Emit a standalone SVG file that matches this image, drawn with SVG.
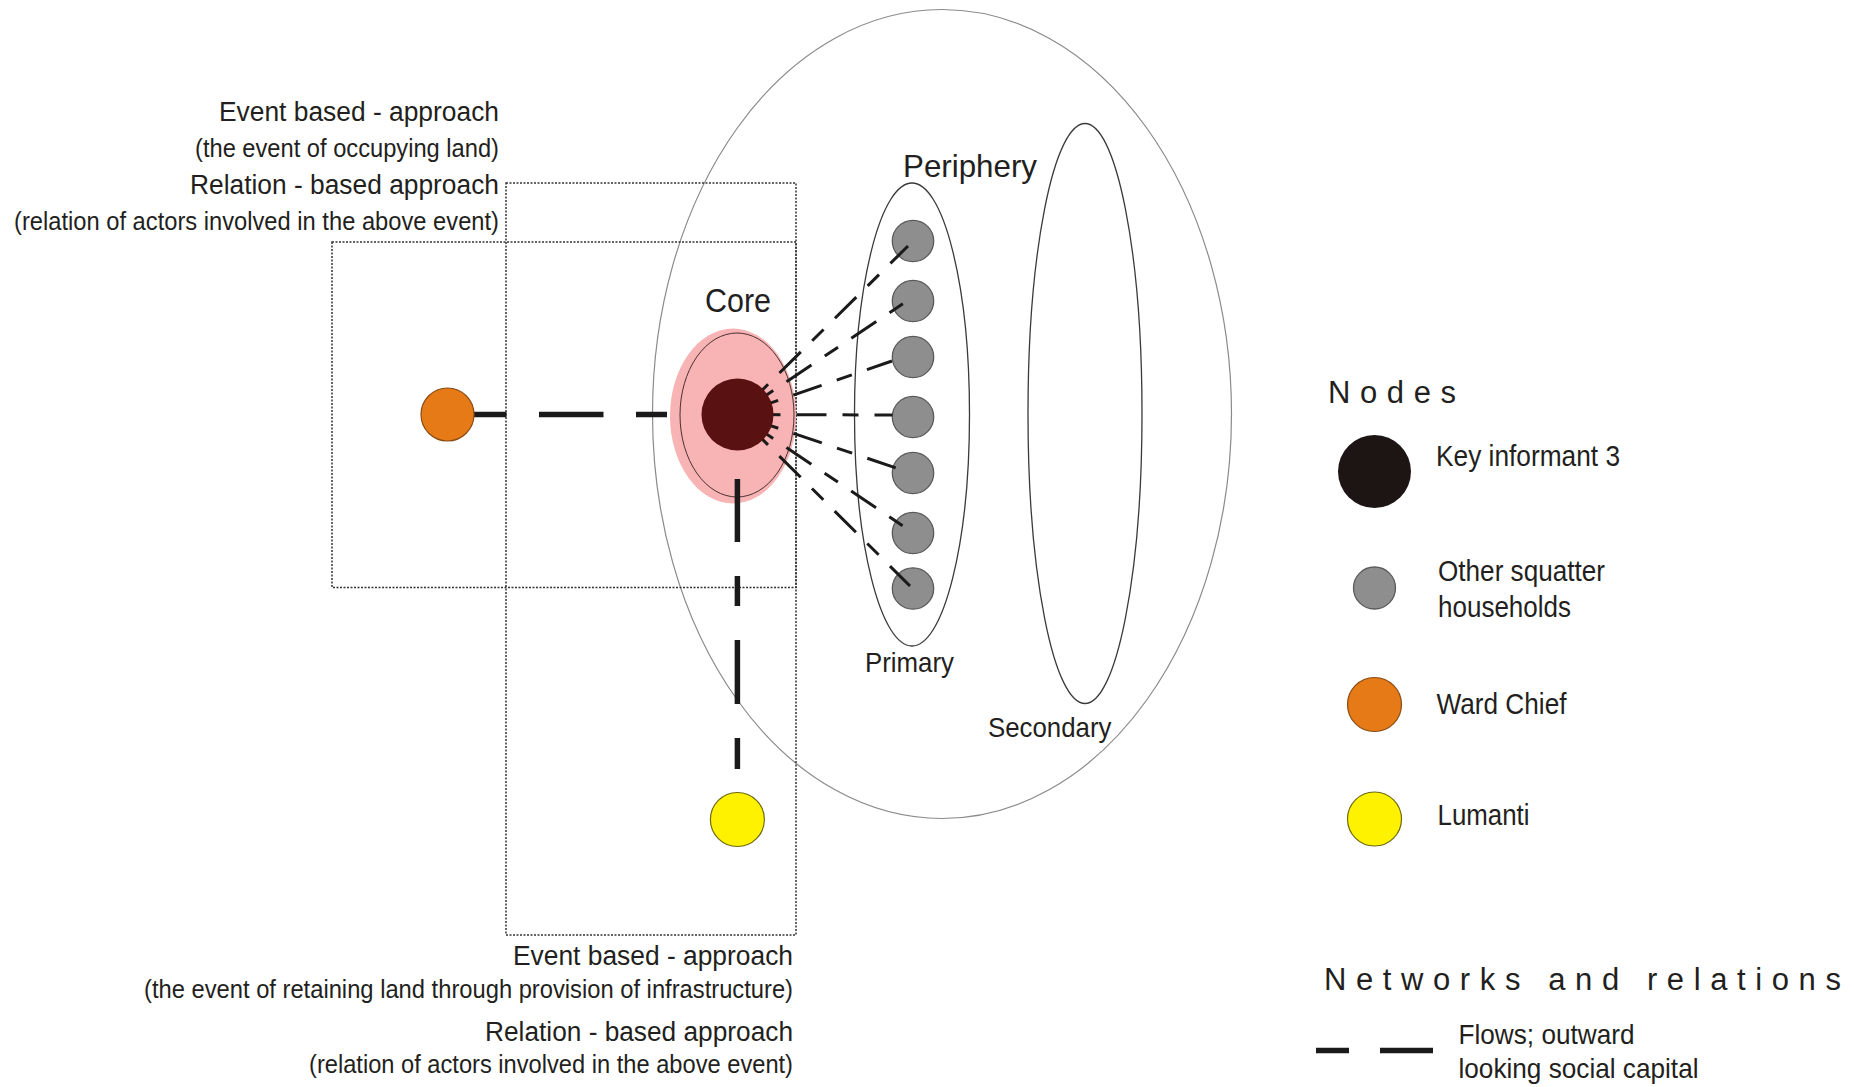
<svg xmlns="http://www.w3.org/2000/svg" width="1854" height="1087" viewBox="0 0 1854 1087">
<style>
text{font-family:"Liberation Sans",Arial,sans-serif;fill:#231f20}
.lbl{font-size:27px}
.sub{font-size:25.5px}
.leg{font-size:29px}
.box{fill:none;stroke:#333;stroke-width:1.5;stroke-dasharray:2 1.5}
.ring{fill:none;stroke:#3a3a3a;stroke-width:1.3}
.hh{fill:#8e8e8e;stroke:#5a5a5a;stroke-width:1.3}
.thick{fill:none;stroke:#1a1a1a;stroke-width:5.5}
.fan{fill:none;stroke:#1a1a1a;stroke-width:3;stroke-dasharray:30 16 16 16;stroke-dashoffset:19}
.title{font-size:31px;letter-spacing:9.6px}
</style>
<rect width="1854" height="1087" fill="#fff"/>

<g id="zones">
<ellipse id="outer" cx="942" cy="414" rx="289.5" ry="404.5" fill="none" stroke="#8a8a8a" stroke-width="1.2"/>
<rect id="box-event-occupy" class="box" x="332" y="242" width="464" height="345.5"/>
<rect id="box-event-retain" class="box" x="506" y="183" width="290" height="752"/>
<ellipse id="primary-ring" class="ring" cx="912" cy="414.5" rx="57.5" ry="231.5"/>
<ellipse id="secondary-ring" class="ring" cx="1085" cy="413.5" rx="57" ry="290"/>
</g>

<g id="core">
<ellipse cx="733" cy="416" rx="63" ry="87.5" fill="#f8b4b4"/>
<ellipse cx="737" cy="415" rx="57" ry="82" fill="none" stroke="#4a3030" stroke-width="1"/>
</g>

<g id="households">
<circle id="hh1" class="hh" cx="913" cy="241" r="20.7"/>
<circle id="hh2" class="hh" cx="913" cy="301" r="20.7"/>
<circle id="hh3" class="hh" cx="913" cy="357" r="20.7"/>
<circle id="hh4" class="hh" cx="913" cy="417" r="20.7"/>
<circle id="hh5" class="hh" cx="913" cy="473" r="20.7"/>
<circle id="hh6" class="hh" cx="913" cy="533" r="20.7"/>
<circle id="hh7" class="hh" cx="913" cy="588.5" r="20.7"/>
</g>

<g id="connectors">
<path class="fan" d="M737.5,414.5 L908,246"/>
<path class="fan" d="M737.5,414.5 L910,299"/>
<path class="fan" d="M737.5,414.5 L892,361"/>
<path class="fan" d="M737.5,414.5 L892.5,415"/>
<path class="fan" d="M737.5,414.5 L905,471"/>
<path class="fan" d="M737.5,414.5 L912,532"/>
<path class="fan" d="M737.5,414.5 L910,586"/>
<path class="thick" d="M667,414.5 H636 M603.5,414.5 H539 M506.5,414.5 H474"/>
<path class="thick" d="M737.4,479 V542 M737.4,576 V606 M737.4,640 V704 M737.4,738 V769"/>
</g>

<g id="key-informant">
<circle cx="737.5" cy="414.5" r="36" fill="#5a1111"/>
</g>
<g id="ward-chief">
<circle cx="447.5" cy="414.5" r="26.5" fill="#e57a17" stroke="#8a4b12" stroke-width="1.2"/>
</g>
<g id="lumanti">
<circle cx="737.4" cy="819.5" r="27" fill="#fff200" stroke="#6e6a10" stroke-width="1.2"/>
</g>

<g id="labels">
<text x="705" y="312" font-size="34" textLength="66" lengthAdjust="spacingAndGlyphs">Core</text>
<text x="903" y="177" font-size="32" textLength="134" lengthAdjust="spacingAndGlyphs">Periphery</text>
<text x="865" y="671.5" font-size="28.5" textLength="89" lengthAdjust="spacingAndGlyphs">Primary</text>
<text x="988" y="736.5" font-size="28.5" textLength="123.5" lengthAdjust="spacingAndGlyphs">Secondary</text>

<text class="lbl" x="219" y="121" textLength="280" lengthAdjust="spacingAndGlyphs">Event based - approach</text>
<text class="sub" x="195" y="157" textLength="304" lengthAdjust="spacingAndGlyphs">(the event of occupying land)</text>
<text class="lbl" x="190" y="194" textLength="309" lengthAdjust="spacingAndGlyphs">Relation - based approach</text>
<text class="sub" x="14" y="229.5" textLength="485" lengthAdjust="spacingAndGlyphs">(relation of actors involved in the above event)</text>

<text class="lbl" x="513" y="965" textLength="280" lengthAdjust="spacingAndGlyphs">Event based - approach</text>
<text class="sub" x="144" y="998" textLength="649" lengthAdjust="spacingAndGlyphs">(the event of retaining land through provision of infrastructure)</text>
<text class="lbl" x="485" y="1041" textLength="308" lengthAdjust="spacingAndGlyphs">Relation - based approach</text>
<text class="sub" x="309" y="1073" textLength="484" lengthAdjust="spacingAndGlyphs">(relation of actors involved in the above event)</text>
</g>

<g id="legend">
<text class="title" x="1328" y="403">Nodes</text>
<circle cx="1374.5" cy="471.5" r="36.5" fill="#1c1514"/>
<text class="leg" x="1436" y="466" textLength="184" lengthAdjust="spacingAndGlyphs">Key informant 3</text>
<circle class="hh" cx="1374.5" cy="588" r="21"/>
<text class="leg" x="1438" y="581" textLength="167" lengthAdjust="spacingAndGlyphs">Other squatter</text>
<text class="leg" x="1438" y="617" textLength="133" lengthAdjust="spacingAndGlyphs">households</text>
<circle cx="1374.5" cy="704.5" r="27" fill="#e57a17" stroke="#8a4b12" stroke-width="1.2"/>
<text class="leg" x="1436.5" y="714" textLength="130" lengthAdjust="spacingAndGlyphs">Ward Chief</text>
<circle cx="1374.5" cy="819" r="27" fill="#fff200" stroke="#6e6a10" stroke-width="1.2"/>
<text class="leg" x="1437.5" y="825" textLength="92" lengthAdjust="spacingAndGlyphs">Lumanti</text>
<text class="title" x="1324" y="990">Networks and relations</text>
<path class="thick" d="M1316,1050.5 H1349 M1380,1050.5 H1433"/>
<text x="1458.5" y="1044" font-size="28" textLength="176" lengthAdjust="spacingAndGlyphs">Flows; outward</text>
<text x="1458.5" y="1078" font-size="28" textLength="240" lengthAdjust="spacingAndGlyphs">looking social capital</text>
</g>
</svg>
